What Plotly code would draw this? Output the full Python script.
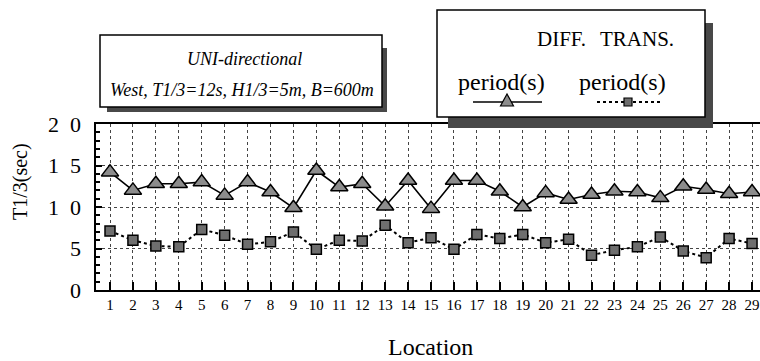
import plotly.graph_objects as go

# Observation points along the basin
locations = list(range(1, 30))

# Significant wave period (s) – diffraction model
diff_period = [14.2, 12.0, 12.8, 12.8, 13.0, 11.4, 13.0, 11.8, 9.9, 14.4,
               12.4, 12.8, 10.1, 13.2, 9.8, 13.2, 13.2, 11.9, 10.0, 11.7,
               10.9, 11.5, 11.9, 11.8, 11.1, 12.5, 12.1, 11.6, 11.8]

# Significant wave period (s) – transformation model
trans_period = [7.1, 6.0, 5.3, 5.2, 7.3, 6.6, 5.5, 5.8, 7.0, 4.9,
                6.0, 5.9, 7.8, 5.7, 6.3, 4.9, 6.7, 6.2, 6.7, 5.7,
                6.1, 4.2, 4.8, 5.2, 6.4, 4.7, 3.9, 6.2, 5.6]

y_tickvals = [0, 5, 10, 15, 20]
y_ticktext = ["0", "5", "1\u20020", "1\u20025", "2\u20020"]

W, H = 760, 361
L, R, T, B = 96, 760, 124, 290
SERIF = "Liberation Serif, Times New Roman, serif"


def px(x):
    return (x - L) / (R - L)


def py(y):
    return (B - y) / (B - T)


fig = go.Figure()

fig.add_trace(go.Scatter(
    x=locations, y=diff_period, mode="lines+markers",
    line=dict(color="black", width=1.6),
    marker=dict(symbol="triangle-up", size=15, color="#8c8c8c",
                line=dict(color="black", width=1.5)),
    showlegend=False,
))
fig.add_trace(go.Scatter(
    x=locations, y=trans_period, mode="lines+markers",
    line=dict(color="black", width=2, dash="dot"),
    marker=dict(symbol="square", size=10, color="#6e6e6e",
                line=dict(color="black", width=1.5)),
    showlegend=False,
))

fig.update_xaxes(
    range=[1 - 14 / 22.93, 1 + 650 / 22.93],
    tickvals=locations, ticktext=[str(v) for v in locations],
    ticks="inside", ticklen=8, tickwidth=2, tickcolor="black",
    showline=True, linecolor="black", linewidth=2, mirror=True,
    showgrid=True, gridcolor="#444", gridwidth=1, griddash="dot",
    zeroline=False,
    tickfont=dict(family=SERIF, size=15, color="black"),
)
fig.update_yaxes(
    range=[0, 20],
    tickvals=y_tickvals, showticklabels=False,
    ticks="inside", ticklen=6, tickwidth=1.5, tickcolor="black",
    minor=dict(dtick=1, ticks="inside", ticklen=4, tickcolor="black",
               showgrid=False),
    showline=True, linecolor="black", linewidth=2,
    showgrid=True, gridcolor="#444", gridwidth=1, griddash="dot",
    zeroline=False,
)

shapes = []
# Caption box with drop shadow
shapes.append(dict(type="rect", xref="paper", yref="paper", layer="above",
                   x0=px(107), x1=px(387), y0=py(112), y1=py(48),
                   fillcolor="#484848", line=dict(width=0)))
shapes.append(dict(type="rect", xref="paper", yref="paper", layer="above",
                   x0=px(100), x1=px(382), y0=py(107), y1=py(35),
                   fillcolor="white", line=dict(color="black", width=1.5)))
# Key box with drop shadow
shapes.append(dict(type="rect", xref="paper", yref="paper", layer="above",
                   x0=px(448), x1=px(713), y0=py(128), y1=py(23),
                   fillcolor="#484848", line=dict(width=0)))
shapes.append(dict(type="rect", xref="paper", yref="paper", layer="above",
                   x0=px(437), x1=px(705), y0=py(117), y1=py(10),
                   fillcolor="white", line=dict(color="black", width=1.5)))
# Key samples
shapes.append(dict(type="line", xref="paper", yref="paper", layer="above",
                   x0=px(473), x1=px(542), y0=py(102), y1=py(102),
                   line=dict(color="black", width=1.6)))
shapes.append(dict(type="path", xref="paper", yref="paper", layer="above",
                   path=f"M {px(500.5)} {py(106)} L {px(513.5)} {py(106)} "
                        f"L {px(507)} {py(94)} Z",
                   fillcolor="#8c8c8c", line=dict(color="black", width=1.2)))
shapes.append(dict(type="line", xref="paper", yref="paper", layer="above",
                   x0=px(597), x1=px(660), y0=py(102), y1=py(102),
                   line=dict(color="black", width=2, dash="dot")))
shapes.append(dict(type="rect", xref="paper", yref="paper", layer="above",
                   x0=px(624), x1=px(632), y0=py(106), y1=py(98),
                   fillcolor="#6e6e6e", line=dict(color="black", width=1.2)))


def note(text, x, y, size, angle=0):
    return dict(text=text, x=px(x), y=py(y), xref="paper", yref="paper",
                showarrow=False, xanchor="center", yanchor="middle",
                textangle=angle,
                font=dict(family=SERIF, size=size, color="black"))


annotations = [
    note("<i>UNI-directional</i>", 244, 59, 18),
    note("<i>West, T1/3=12s, H1/3=5m, B=600m</i>", 242, 90, 18),
    note("DIFF.", 561, 39, 21),
    note("TRANS.", 637, 39, 21),
    note("period(s)", 501, 82, 24),
    note("period(s)", 622, 82, 24),
    note("T1/3(sec)", 20, 182, 20, angle=-90),
    note("Location", 430, 347, 24),
]

# y-axis value labels, placed on the axis scale and set off from the axis line
for v, t in zip(y_tickvals, y_ticktext):
    annotations.append(dict(
        text=t, x=px(83), y=v, xref="paper", yref="y",
        showarrow=False, xanchor="right", yanchor="middle",
        font=dict(family=SERIF, size=22, color="black"),
    ))

fig.update_layout(
    width=W, height=H,
    margin=dict(l=L, r=W - R, t=T, b=H - B),
    paper_bgcolor="white", plot_bgcolor="white",
    font=dict(family=SERIF, color="black"),
    shapes=shapes, annotations=annotations,
    showlegend=False,
)

fig.write_html("out.html")
